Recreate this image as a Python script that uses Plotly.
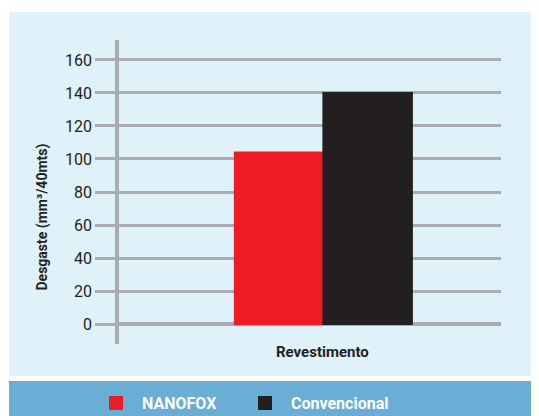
import plotly.graph_objects as go

categories = ["Revestimento"]
series_names = ["NANOFOX", "Convencional"]
series_values = [[104], [140]]
series_colors = ["#ee1c25", "#231f20"]
y_ticks = [0, 20, 40, 60, 80, 100, 120, 140, 160]
x_title = "Revestimento"
y_title = "Desgaste (mm³/40mts)"

FONT = "Roboto, Liberation Sans, sans-serif"

# page body has an 8px margin, so the figure is drawn 8px in from the corner
OFF = 8
W, H = 539 - OFF, 416 - OFF
# plot area in figure pixels
L, R, T, B = 119 - OFF, 501 - OFF, 40 - OFF, 344 - OFF
pw, ph = R - L, B - T

def px(x):
    return (x - OFF - L) / pw

def py(y):
    return (B - (y - OFF)) / ph

fig = go.Figure()
legend_ids = ["legend", "legend2"]
for name, vals, col, lg in zip(series_names, series_values, series_colors, legend_ids):
    fig.add_trace(go.Bar(x=categories, y=vals, name=name, legend=lg,
                         marker=dict(color=col, line=dict(width=2, color=col))))

shapes = [
    dict(type="rect", xref="paper", yref="paper", x0=px(9), x1=px(600),
         y0=py(376), y1=py(12), fillcolor="#dff1f9", line=dict(width=0), layer="below"),
    dict(type="rect", xref="paper", yref="paper", x0=px(9), x1=px(600),
         y0=py(460), y1=py(381), fillcolor="#6aaed6", line=dict(width=0), layer="below"),
]

annotations = [
    dict(text=x_title, xref="paper", yref="paper", x=px(322), y=py(352),
         xanchor="center", yanchor="middle", showarrow=False,
         font=dict(family=FONT, size=15, color="#231f20", weight="bold")),
    dict(text=y_title, xref="paper", yref="paper", x=px(42), y=py(217.5),
         xanchor="center", yanchor="middle", showarrow=False, textangle=-90,
         font=dict(family=FONT, size=14, color="#231f20", weight="bold")),
]

legend_common = dict(orientation="h", yanchor="middle", y=py(403), xanchor="left",
                     font=dict(family=FONT, size=16, color="white", weight="bold"),
                     itemwidth=42, bgcolor="rgba(0,0,0,0)")

fig.update_layout(
    width=W, height=H,
    margin=dict(l=L, r=W - R, t=T, b=H - B, pad=0, autoexpand=False),
    paper_bgcolor="white",
    plot_bgcolor="rgba(0,0,0,0)",
    barmode="group",
    bargap=0.073,
    bargroupgap=0,
    shapes=shapes,
    annotations=annotations,
    font=dict(family=FONT, color="#231f20"),
    showlegend=True,
    legend=dict(x=px(90), **legend_common),
    legend2=dict(x=px(239), **legend_common),
    xaxis=dict(range=[-1.07, 0.93], showticklabels=False, showgrid=False, showline=False,
               zeroline=False, ticks="", automargin=False),
    yaxis=dict(range=[-12.1, 172.1], tickvals=y_ticks, ticks="outside", ticklen=20,
               tickwidth=2.5, tickcolor="#abacb2", automargin=False,
               showgrid=True, gridcolor="#abacb2", gridwidth=2.5,
               zeroline=True, zerolinecolor="#abacb2", zerolinewidth=3.5,
               showline=True, linecolor="#abacb2", linewidth=3.5,
               tickfont=dict(family=FONT, size=16, color="#231f20")),
)

fig.write_html("out.html")
